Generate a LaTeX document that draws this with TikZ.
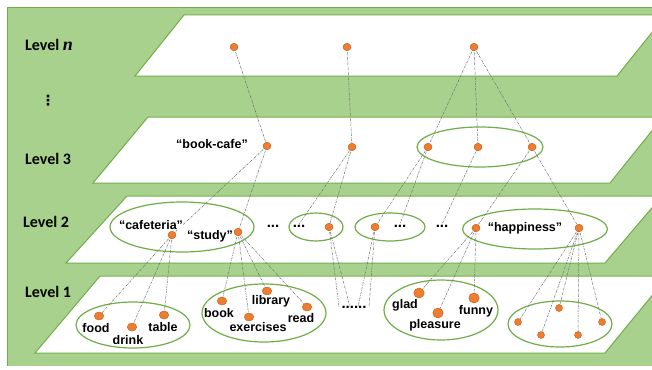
\documentclass[tikz,border=0pt]{standalone}
\usepackage{fontspec}
\setmainfont{Liberation Sans}
\newfontfamily\levelfont{Carlito}
\newfontfamily\varfont{Liberation Serif}
\newfontfamily\symfont{DejaVu Sans}
\usetikzlibrary{shapes.geometric}
\definecolor{bggreen}{HTML}{A9D18E}
\definecolor{edgegreen}{HTML}{70AD47}
\definecolor{dotfill}{HTML}{ED7D31}
\definecolor{dotedge}{HTML}{C55A11}
\definecolor{linkgray}{HTML}{6F6F6F}
\begin{document}
\begin{tikzpicture}[x=1pt,y=-1pt,
  plane/.style={fill=white, draw=edgegreen, line width=1pt},
  grp/.style={ellipse, draw=edgegreen, line width=1.2pt, inner sep=0pt},
  dot/.style={ellipse, fill=dotfill, draw=dotedge, line width=0.4pt,
    minimum width=8pt, minimum height=7.5pt, inner sep=0pt},
  bigdot/.style={dot, minimum width=9.5pt, minimum height=8pt},
  hugedot/.style={dot, minimum width=10.5pt, minimum height=10pt},
  smalldot/.style={dot, minimum width=7pt, minimum height=7pt},
  word/.style={font=\bfseries\fontsize{12.5}{12.5}\selectfont, inner sep=0.4pt, fill=white},
  more/.style={font=\bfseries\fontsize{15}{15}\selectfont, inner sep=0.4pt},
  lvl/.style={font=\levelfont\bfseries\fontsize{16}{16}\selectfont, anchor=west, inner sep=0pt},
  link/.style={draw=linkgray, line width=0.5pt, dash pattern=on 2.5pt off 1pt on 0.6pt off 1pt}
]
\useasboundingbox (0,0) rectangle (652,369);
\clip (0,0) rectangle (652,369);

% background and the four level planes
\fill[bggreen] (7.5,7) rectangle (660,366);
\draw[edgegreen, line width=0.8pt] (660,7) -- (7.5,7) -- (7.5,366);
\draw[plane] (184,15) -- (666,15) -- (617,76) -- (135,76) -- cycle;
\draw[plane] (148,117) -- (663,117) -- (610,183) -- (93,183) -- cycle;
\draw[plane] (127,196) -- (662,196) -- (605,263) -- (66,263) -- cycle;
\draw[plane] (100,276) -- (668,276) -- (605,353) -- (35,353) -- cycle;

% level labels
\node[lvl] (ln) at (25,45) {Level {\varfont\bfseries\itshape\fontsize{18}{18}\selectfont n}};
\node[font=\symfont\bfseries\fontsize{14}{14}\selectfont] (vd) at (48,101) {⋮};
\node[lvl] (l3) at (25,159) {Level 3};
\node[lvl] (l2) at (23,222) {Level 2};
\node[lvl] (l1) at (25,292) {Level 1};

% group ellipses
\node[grp, minimum width=126pt, minimum height=40pt] (g3) at (480,147) {};
\node[grp, minimum width=144pt, minimum height=50pt] (g2a) at (182,227) {};
\node[grp, minimum width=54pt, minimum height=28pt] (g2b) at (316,227) {};
\node[grp, minimum width=70pt, minimum height=28pt] (g2c) at (390,227) {};
\node[grp, minimum width=145pt, minimum height=40pt] (g2d) at (535,229) {};
\node[grp, minimum width=114pt, minimum height=46pt] (g1a) at (133,325) {};
\node[grp, minimum width=124pt, minimum height=58pt] (g1b) at (264,313) {};
\node[grp, minimum width=114pt, minimum height=60pt] (g1c) at (441,310) {};
\node[grp, minimum width=104pt, minimum height=46pt] (g1d) at (560,324) {};

% level n
\coordinate (n1) at (234,47);
\coordinate (n2) at (347,47);
\coordinate (n3) at (474,47);
% level 3
\coordinate (bc) at (267,146);
\coordinate (m3) at (352,147);
\coordinate (h3a) at (428,147);
\coordinate (h3b) at (478,147);
\coordinate (h3c) at (532,147);
% level 2
\coordinate (cafe) at (172,235);
\coordinate (study) at (238,232);
\coordinate (e2) at (329,227);
\coordinate (e3) at (375,227);
\coordinate (hap1) at (476,228);
\coordinate (hap2) at (579,228);
\node[more] (dA) at (273,226) {...};
\node[more] (dB) at (299,226) {...};
\node[more] (dC) at (400,226) {...};
\node[more] (dD) at (442,226) {...};
% level 1
\coordinate (food) at (99,316);
\coordinate (drink) at (132,327);
\coordinate (table) at (164,315);
\coordinate (book) at (222,301);
\coordinate (library) at (267,291);
\coordinate (exer) at (249,317);
\coordinate (read) at (307,307);
\node[more] (dE) at (354,307) {......};
\coordinate (q1) at (339,307);
\coordinate (q2) at (350,307);
\coordinate (q3) at (358,307);
\coordinate (q4) at (369,307);
\coordinate (glad) at (419,293);
\coordinate (pleas) at (438,313);
\coordinate (funny) at (474,298);
\coordinate (k1) at (518,322);
\coordinate (k2) at (541,335);
\coordinate (k3) at (559,308);
\coordinate (k4) at (578,335);
\coordinate (k5) at (602,322);

% connectors
\draw[link] (n1) -- (bc);
\draw[link] (n2) -- (m3);
\draw[link] (n3) -- (h3a);
\draw[link] (n3) -- (h3b);
\draw[link] (n3) -- (h3c);
\draw[link] (bc) -- (cafe);
\draw[link] (bc) -- (study);
\draw[link] (m3) -- (dB.north);
\draw[link] (m3) -- (e2);
\draw[link] (h3a) -- (e3);
\draw[link] (h3a) -- (dC.north);
\draw[link] (h3b) -- (dD.north);
\draw[link] (h3c) -- (hap1);
\draw[link] (h3c) -- (hap2);
\draw[link] (cafe) -- (food);
\draw[link] (cafe) -- (drink);
\draw[link] (cafe) -- (table);
\draw[link] (study) -- (book);
\draw[link] (study) -- (exer);
\draw[link] (study) -- (library);
\draw[link] (study) -- (read);
\draw[link] (e2) -- (q1);
\draw[link] (e2) -- (q2);
\draw[link] (e3) -- (q3);
\draw[link] (e3) -- (q4);
\draw[link] (hap1) -- (glad);
\draw[link] (hap1) -- (pleas);
\draw[link] (hap1) -- (funny);
\foreach \k in {k1,k2,k3,k4,k5} \draw[link] (hap2) -- (\k);

% dots
\foreach \p in {n1,n2,n3,bc,m3,h3a,h3b,h3c,cafe,study,e2,e3,hap1,hap2}
  \node[dot] at (\p) {};
\foreach \p in {food,drink,table,book,library,exer,read}
  \node[bigdot] at (\p) {};
\foreach \p in {glad,pleas,funny}
  \node[hugedot] at (\p) {};
\foreach \p in {k1,k2,k3,k4,k5}
  \node[smalldot] at (\p) {};

% word labels
\node[word, fill=none] (tbc) at (212,144) {“book-cafe”};
\node[word] (tcafe) at (151,225) {“cafeteria”};
\node[word] (tstudy) at (210,236) {“study”};
\node[word] (thap) at (525,228) {“happiness”};
\node[word] (tfood) at (96,328) {food};
\node[word] (tdrink) at (128,340) {drink};
\node[word] (ttable) at (163,327) {table};
\node[word] (tbook) at (219,313) {book};
\node[word] (tlib) at (271,301) {library};
\node[word] (texer) at (258,327) {exercises};
\node[word] (tread) at (301,318) {read};
\node[word] (tglad) at (405,305) {glad};
\node[word] (tpleas) at (435,325) {pleasure};
\node[word] (tfunny) at (476,311) {funny};
\end{tikzpicture}
\end{document}
